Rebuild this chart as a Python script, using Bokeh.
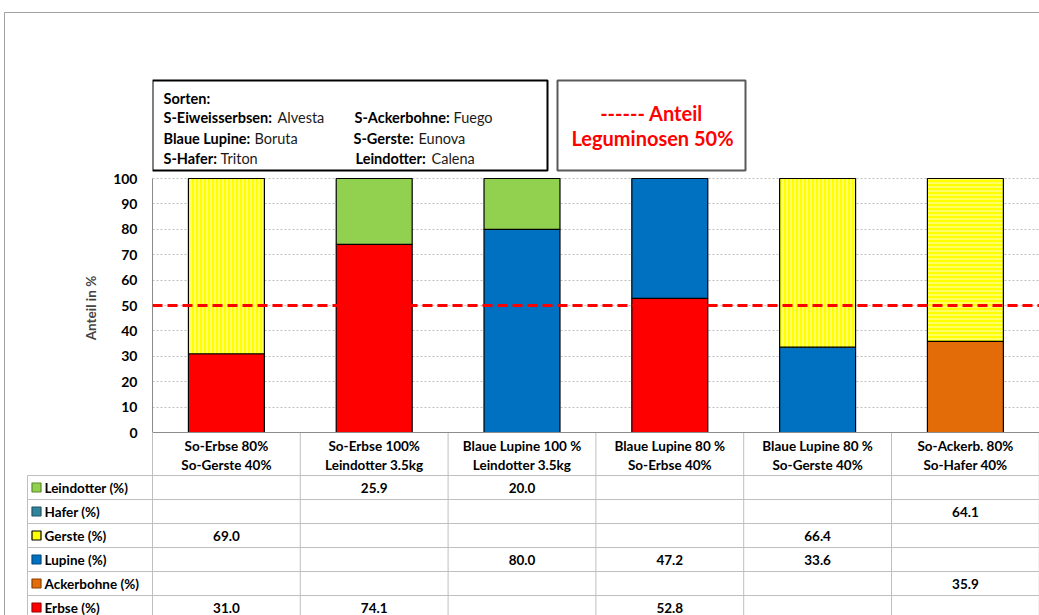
from bokeh.plotting import figure
from bokeh.models import Range1d, FixedTicker, Span, ColumnDataSource
from bokeh.core.properties import value
from bokeh.embed import file_html
from bokeh.resources import INLINE

# ---------------- data ----------------
categories_top = ["So-Erbse 80%", "So-Erbse 100%", "Blaue Lupine 100 %",
                  "Blaue Lupine 80 %", "Blaue Lupine 80 %", "So-Ackerb. 80%"]
categories_bottom = ["So-Gerste 40%", "Leindotter 3.5kg", "Leindotter 3.5kg",
                     "So-Erbse 40%", "So-Gerste 40%", "So-Hafer 40%"]

N = None
erbse = [31.0, 74.1, N, 52.8, N, N]
ackerbohne = [N, N, N, N, N, 35.9]
lupine = [N, N, 80.0, 47.2, 33.6, N]
gerste = [69.0, N, N, N, 66.4, N]
hafer = [N, N, N, N, N, 64.1]
leindotter = [N, 25.9, 20.0, N, N, N]

series_names = ["Erbse (%)", "Ackerbohne (%)", "Lupine (%)", "Gerste (%)", "Hafer (%)", "Leindotter (%)"]
series_values = [erbse, ackerbohne, lupine, gerste, hafer, leindotter]

y_ticks = [0, 10, 20, 30, 40, 50, 60, 70, 80, 90, 100]
threshold = 50
y_label = "Anteil in %"

sorten_title = "Sorten:"
sorten_keys = ["S-Eiweisserbsen:", "S-Ackerbohne:", "Blaue Lupine:", "S-Gerste:", "S-Hafer:", "Leindotter:"]
sorten_names = ["Alvesta", "Fuego", "Boruta", "Eunova", "Triton", "Calena"]
note_lines = ["------ Anteil", "Leguminosen 50%"]

# ---------------- styles ----------------
bar_fill = ["#FF0000", "#E36C09", "#0070C0", "#FFFF00", "#FFFF00", "#92D050"]
bar_hatch = [None, None, None, "vertical_line", "horizontal_line", None]
swatch_fill = ["#FF0000", "#E36C09", "#0070C0", "#FFFF00", "#31849B", "#92D050"]
swatch_line = ["#A00000", "#8A4000", "#004A80", "#000000", "#1F5566", "#5A8A2A"]
FONT = value("Lato")
TABLE_FS = "13.5px"

X0_PX, COL_PX, Y0_PX, UNIT_PX = 152.0, 147.8, 432.0, 2.54


def dx(px):
    return (px - X0_PX) / COL_PX


def dy(py):
    return (Y0_PX - py) / UNIT_PX


W, H = 1039, 615
left_border = int(X0_PX)
p = figure(width=W, height=H, output_backend="svg", toolbar_location=None,
           x_range=Range1d(0, (W - left_border) / COL_PX),
           y_range=Range1d(dy(H), dy(0)),
           x_axis_location=None, min_border_left=left_border, min_border_right=0,
           min_border_top=0, min_border_bottom=0)
p.outline_line_color = None
p.background_fill_color = "white"
p.border_fill_color = "white"
p.xgrid.visible = False
p.ygrid.ticker = FixedTicker(ticks=y_ticks[1:])
p.ygrid.grid_line_color = "#BFBFBF"
p.ygrid.grid_line_dash = "2 2"
p.ygrid.grid_line_width = 1

ax = p.yaxis[0]
ax.ticker = FixedTicker(ticks=y_ticks)
ax.bounds = (0, 100)
ax.axis_line_color = "#8C8C8C"
ax.axis_line_width = 1
ax.major_tick_line_color = None
ax.minor_tick_line_color = None
ax.major_tick_out = 0
ax.major_tick_in = 0
ax.major_label_standoff = 15
ax.major_label_text_font = "Lato"
ax.major_label_text_font_style = "bold"
ax.major_label_text_font_size = "14px"
ax.major_label_text_color = "black"
ax.axis_label = y_label
ax.axis_label_text_font = "Lato"
ax.axis_label_text_font_style = "bold"
ax.axis_label_text_font_size = "13.5px"
ax.axis_label_standoff = 11

# baseline
p.add_layout(Span(location=0, dimension="width", line_color="#8C8C8C", line_width=1))

# ---------------- bars ----------------
cum = [0.0] * len(categories_top)
for vals, fc, hp in zip(series_values, bar_fill, bar_hatch):
    xs, bots, tops = [], [], []
    for i, v in enumerate(vals):
        if v is None:
            continue
        xs.append(i + 0.5)
        bots.append(cum[i])
        tops.append(cum[i] + v)
        cum[i] += v
    src = ColumnDataSource(dict(x=xs, bottom=bots, top=tops))
    kw = {}
    if hp:
        kw = dict(hatch_pattern=hp, hatch_color="#FFFFC8", hatch_scale=4, hatch_weight=1)
    p.vbar(x="x", bottom="bottom", top="top", width=0.514, source=src,
           fill_color=fc, line_color="black", line_width=1.2, **kw)

# threshold line
p.add_layout(Span(location=threshold, dimension="width", line_color="#FF0000",
                  line_dash="10 5", line_width=3))

# ---------------- top boxes ----------------
p.quad(left=[dx(152)], right=[dx(547)], top=[dy(80)], bottom=[dy(170)],
       fill_color="white", line_color="black", line_width=2)
p.quad(left=[dx(557)], right=[dx(745)], top=[dy(80)], bottom=[dy(170)],
       fill_color="white", line_color="#595959", line_width=2)

SFS = "14.5px"
p.text(x=[dx(163)], y=[dy(98)], text=[sorten_title], text_font=FONT, text_font_style="bold",
       text_font_size=SFS, text_baseline="middle", text_align="left", text_color="black")
key_px = [163, 354, 163, 353, 163, 355]
name_px = [277, 453, 254, 418, 220, 431]
row_py = [117, 117, 138, 138, 158, 158]
p.text(x=[dx(v) for v in key_px], y=[dy(v) for v in row_py], text=sorten_keys, text_font=FONT,
       text_font_style="bold", text_font_size=SFS, text_baseline="middle", text_align="left",
       text_color="black")
p.text(x=[dx(v) for v in name_px], y=[dy(v) for v in row_py], text=sorten_names, text_font=FONT,
       text_font_size=SFS, text_baseline="middle", text_align="left", text_color="#1A1A1A")
p.text(x=[dx(651), dx(652)], y=[dy(112), dy(137)], text=note_lines, text_font=FONT,
       text_font_style="bold", text_font_size="20px", text_baseline="middle", text_align="center",
       text_color="#FF0000")

# ---------------- table ----------------
ncat = len(categories_top)
header_bottom_py = 475
row_h = 24
nrows = len(series_names)
row_lines_py = [header_bottom_py + k * row_h for k in range(nrows + 1)]
bottom_py = 640
line_col = "#BFBFBF"

# vertical lines
p.segment(x0=[i for i in range(1, ncat + 1)], x1=[i for i in range(1, ncat + 1)],
          y0=[0] * ncat, y1=[dy(bottom_py)] * ncat, line_color=line_col, line_width=1)
p.segment(x0=[0], x1=[0], y0=[0], y1=[dy(bottom_py)], line_color=line_col, line_width=1, level="overlay")
p.segment(x0=[dx(27)], x1=[dx(27)], y0=[dy(header_bottom_py)], y1=[dy(bottom_py)],
          line_color=line_col, line_width=1, level="overlay")
# horizontal lines
p.segment(x0=[dx(27)] * len(row_lines_py), x1=[dx(1040)] * len(row_lines_py),
          y0=[dy(v) for v in row_lines_py], y1=[dy(v) for v in row_lines_py],
          line_color=line_col, line_width=1, level="overlay")
# outer chart border (top and left)
p.segment(x0=[dx(4), dx(4)], x1=[dx(1040), dx(4)], y0=[dy(12), dy(12)], y1=[dy(12), dy(640)],
          line_color="#A0A0A0", line_width=1, level="overlay")

# header
p.text(x=[i + 0.5 for i in range(ncat)], y=[dy(445)] * ncat, text=categories_top, text_font=FONT,
       text_font_style="bold", text_font_size=TABLE_FS, text_baseline="middle", text_align="center",
       text_color="black")
p.text(x=[i + 0.5 for i in range(ncat)], y=[dy(464)] * ncat, text=categories_bottom, text_font=FONT,
       text_font_style="bold", text_font_size=TABLE_FS, text_baseline="middle", text_align="center",
       text_color="black")

# rows (top -> bottom is reversed stacking order)
order = list(range(nrows))[::-1]
lab_y, lab_t, sw_fill, sw_line = [], [], [], []
vx, vy, vt = [], [], []
for r, s in enumerate(order):
    cy = dy(header_bottom_py + r * row_h + row_h / 2.0)
    lab_y.append(cy)
    lab_t.append(series_names[s])
    sw_fill.append(swatch_fill[s])
    sw_line.append(swatch_line[s])
    for i, v in enumerate(series_values[s]):
        if v is not None:
            vx.append(i + 0.5)
            vy.append(cy)
            vt.append(f"{v:.1f}")

p.rect(x=[dx(36)] * nrows, y=lab_y, width=9, height=9, width_units="screen", height_units="screen",
       fill_color=sw_fill, line_color=sw_line, line_width=1.2, level="overlay")
p.text(x=[dx(44)] * nrows, y=lab_y, text=lab_t, text_font=FONT, text_font_style="bold",
       text_font_size=TABLE_FS, text_baseline="middle", text_align="left", text_color="black",
       level="overlay")
p.text(x=vx, y=vy, text=vt, text_font=FONT, text_font_style="bold", text_font_size=TABLE_FS,
       text_baseline="middle", text_align="center", text_color="black")

open("out.html", "w").write(file_html(p, INLINE))
